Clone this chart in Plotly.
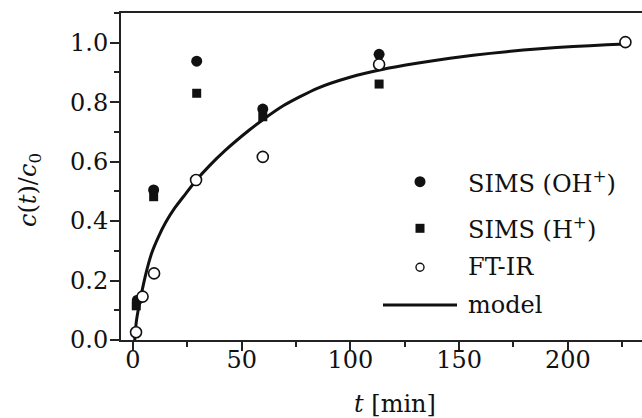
import plotly.graph_objects as go

# ---- data ----
t_oh = [2, 9.5, 29.3, 59.7, 113.2]
c_oh = [0.134, 0.505, 0.938, 0.777, 0.961]

t_h = [1.5, 9.5, 29.3, 59.7, 113.2]
c_h = [0.115, 0.482, 0.830, 0.751, 0.861]

t_ir = [1.4, 4.4, 9.7, 29.0, 59.7, 113.2, 226.5]
c_ir = [0.026, 0.146, 0.224, 0.538, 0.616, 0.927, 1.002]

t_model = [0.8, 1.5, 2.5, 4.0, 6.0, 8.5, 11.6, 15.0, 19.3, 24.0, 28.8, 35.0, 42.3,
           53.8, 59.9, 69.1, 84.5, 99.8, 115.1, 130.5, 145.8, 156.5, 171.9, 187.2,
           202.5, 217.9, 226.5]
c_model = [0.0, 0.06, 0.105, 0.16, 0.225, 0.29, 0.345, 0.395, 0.445, 0.49, 0.535,
           0.585, 0.637, 0.708, 0.742, 0.788, 0.846, 0.884, 0.911, 0.931, 0.948,
           0.958, 0.970, 0.980, 0.987, 0.993, 0.996]

x_ticks = [0, 50, 100, 150, 200]
y_ticks = [0.0, 0.2, 0.4, 0.6, 0.8, 1.0]
y_tick_text = ["0.0", "0.2", "0.4", "0.6", "0.8", "1.0"]

legend_labels = ["SIMS (OH<sup>+</sup>)", "SIMS (H<sup>+</sup>)", "FT-IR", "model"]

FONT = "DejaVu Serif"
FS = 24
FS_LEG = 24
INK = "#111111"

W, H = 642, 418
L, R, T, B = 121, 0, 13, 78
PW, PH = W - L - R, H - T - B


def px_x(p):
    return (p - L) / PW


def px_y(p):
    return (H - B - p) / PH


fig = go.Figure()

fig.add_trace(go.Scatter(x=t_model, y=c_model, mode="lines",
                         line=dict(color=INK, width=3, shape="spline", smoothing=0.6),
                         showlegend=False))
fig.add_trace(go.Scatter(x=t_h, y=c_h, mode="markers",
                         marker=dict(symbol="square", size=9, color=INK), showlegend=False))
fig.add_trace(go.Scatter(x=t_oh, y=c_oh, mode="markers",
                         marker=dict(symbol="circle", size=11, color=INK), showlegend=False))
fig.add_trace(go.Scatter(x=t_ir, y=c_ir, mode="markers",
                         marker=dict(symbol="circle", size=11, color="white",
                                     line=dict(color=INK, width=1.6)), showlegend=False))

# ---- custom legend on a pixel-based overlay axis ----
leg_mx = 420
leg_rows = [181.7, 228.3, 267.3, 305]
leg_text_x = 466
fig.add_trace(go.Scatter(x=[leg_mx], y=[leg_rows[0]], xaxis="x2", yaxis="y2", mode="markers",
                         marker=dict(symbol="circle", size=11, color=INK), showlegend=False))
fig.add_trace(go.Scatter(x=[leg_mx], y=[leg_rows[1]], xaxis="x2", yaxis="y2", mode="markers",
                         marker=dict(symbol="square", size=9, color=INK), showlegend=False))
fig.add_trace(go.Scatter(x=[leg_mx], y=[leg_rows[2]], xaxis="x2", yaxis="y2", mode="markers",
                         marker=dict(symbol="circle", size=8, color="white",
                                     line=dict(color=INK, width=1.4)), showlegend=False))
fig.add_trace(go.Scatter(x=[383, 457], y=[leg_rows[3], leg_rows[3]], xaxis="x2", yaxis="y2",
                         mode="lines", line=dict(color=INK, width=3), showlegend=False))

annotations = []
for lab, yy in zip(legend_labels, leg_rows):
    annotations.append(dict(x=px_x(leg_text_x), y=px_y(yy), xref="paper", yref="paper", text=lab,
                            showarrow=False, xanchor="left", yanchor="middle",
                            font=dict(family=FONT, size=FS_LEG, color=INK)))

# axis titles
annotations.append(dict(x=px_x(395), y=px_y(404), xref="paper", yref="paper", text="<i>t</i> [min]",
                        showarrow=False, xanchor="center", yanchor="middle",
                        font=dict(family=FONT, size=FS_LEG, color=INK)))
annotations.append(dict(x=px_x(29), y=px_y(190), xref="paper", yref="paper",
                        text="<i>c</i>(<i>t</i>)/<i>c</i><sub>0</sub>",
                        showarrow=False, textangle=-90, xanchor="center", yanchor="middle",
                        font=dict(family=FONT, size=FS_LEG, color=INK)))

px_per_unit = 108.7 / 50.0
x0_px = 133.0
x_lo = (L - x0_px) / px_per_unit
x_hi = (W - R - x0_px) / px_per_unit

axis_common = dict(showgrid=False, zeroline=False, showline=True, linecolor="#222222", linewidth=2,
                   ticks="outside", tickwidth=2, tickcolor="#222222", ticklen=9,
                   tickfont=dict(family=FONT, size=FS, color=INK))

fig.update_layout(
    width=W, height=H,
    margin=dict(l=L, r=R, t=T, b=B, pad=0),
    paper_bgcolor="white", plot_bgcolor="white",
    font=dict(family=FONT, size=FS, color=INK),
    showlegend=False,
    xaxis=dict(range=[x_lo, x_hi], tickvals=x_ticks, mirror=True, ticklabelstandoff=-12,
               minor=dict(ticks="outside", dtick=25, tick0=0, ticklen=5, tickwidth=2, tickcolor="#222222"),
               **axis_common),
    yaxis=dict(range=[0, 1.1], tickvals=y_ticks, ticktext=y_tick_text, ticklabelstandoff=-3,
               minor=dict(ticks="outside", dtick=0.1, tick0=0, ticklen=5, tickwidth=2, tickcolor="#222222"),
               **axis_common),
    xaxis2=dict(range=[L, W - R], overlaying="x", visible=False),
    yaxis2=dict(range=[H - B, T], overlaying="y", visible=False),
    annotations=annotations,
)

fig.write_html("out.html")
